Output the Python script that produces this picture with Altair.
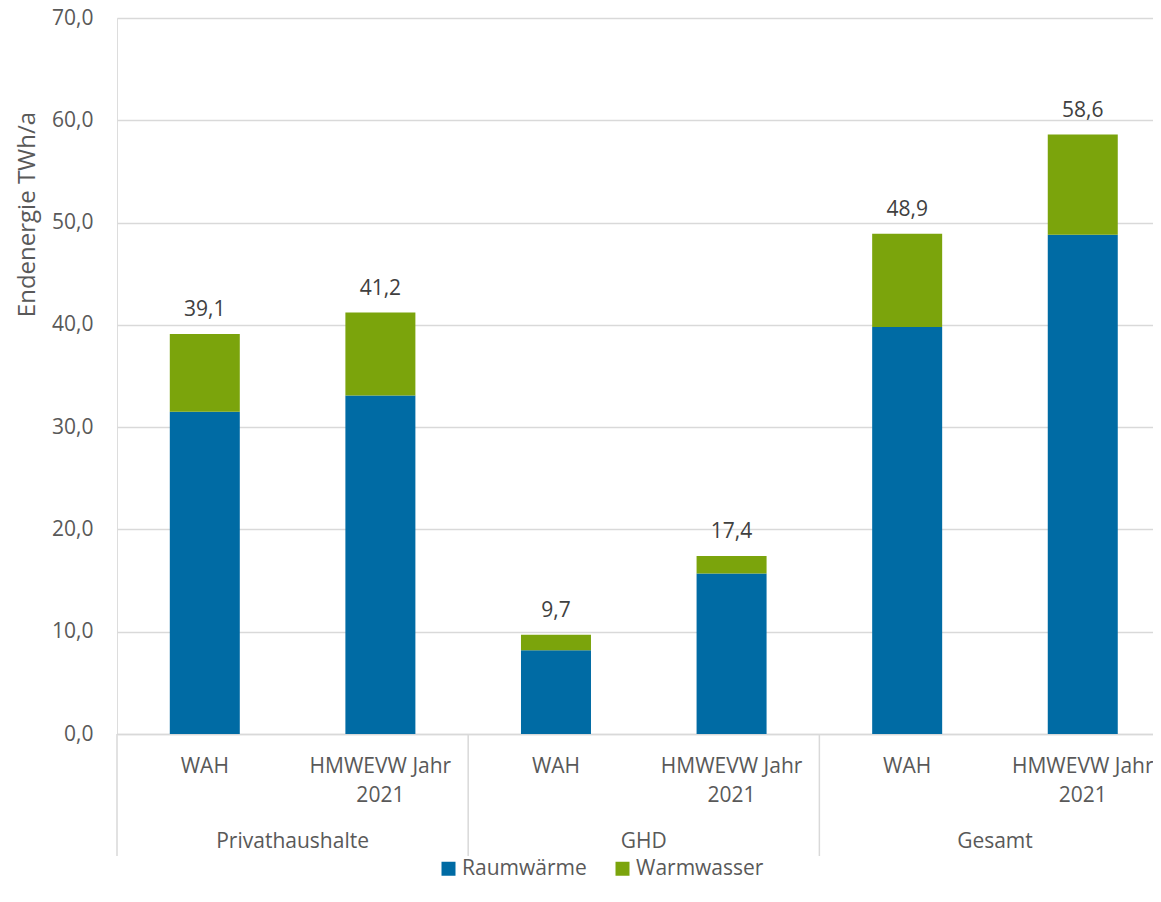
import altair as alt
import pandas as pd

groups = ["Privathaushalte", "Privathaushalte", "GHD", "GHD", "Gesamt", "Gesamt"]
subs = ["WAH", "HMWEVW Jahr\n2021", "WAH", "HMWEVW Jahr\n2021", "WAH", "HMWEVW Jahr\n2021"]
raumwaerme = [31.5, 33.1, 8.2, 15.7, 39.8, 48.8]
warmwasser = [7.6, 8.1, 1.5, 1.7, 9.1, 9.8]
totals = [39.1, 41.2, 9.7, 17.4, 48.9, 58.6]
series = ["Raumwärme", "Warmwasser"]
colors = ["#006BA4", "#7BA40C"]
group_names = ["Privathaushalte", "GHD", "Gesamt"]
y_ticks = [0, 10, 20, 30, 40, 50, 60, 70]
# group boundaries visible in the picture (the right-most one lies past the edge)
separators = [0, 2, 4]

FONT = "Open Sans"
FS = 21

rows = []
for i in range(len(subs)):
    rows.append({"pos": i + 0.5, "series": series[0], "value": raumwaerme[i], "ord": 0})
    rows.append({"pos": i + 0.5, "series": series[1], "value": warmwasser[i], "ord": 1})
bars_df = pd.DataFrame(rows)

tot_df = pd.DataFrame({"pos": [i + 0.5 for i in range(len(subs))], "total": totals, "sub": subs})
grp_df = pd.DataFrame({"gpos": [2 * k + 1 for k in range(len(group_names))], "group": group_names})
sep_df = pd.DataFrame({"sx": separators})

# as in the reference, the last group runs up to the right edge of the picture
xscale = alt.Scale(domain=[0, 5.9], nice=False, zero=False, padding=0)
yscale = alt.Scale(domain=[0, 70], nice=False)

bars = alt.Chart(bars_df).mark_bar(width=70).encode(
    x=alt.X("pos:Q", scale=xscale,
            axis=alt.Axis(labels=False, ticks=False, grid=False, domain=True,
                          domainColor="#D9D9D9", domainWidth=1.5, title=None)),
    y=alt.Y("value:Q", stack="zero", scale=yscale,
            axis=alt.Axis(values=y_ticks, title="Endenergie TWh/a", grid=True,
                          gridColor="#D9D9D9", gridWidth=1.5, domain=False, ticks=False, tickSize=0,
                          labelPadding=24, titlePadding=12, titleY=196,
                          labelExpr="replace(format(datum.value, '.1f'), '.', ',')",
                          labelFont=FONT, labelFontSize=FS, labelColor="#595959",
                          titleFont=FONT, titleFontSize=24, titleColor="#595959",
                          titleFontWeight="normal")),
    color=alt.Color("series:N", scale=alt.Scale(domain=series, range=colors),
                    legend=alt.Legend(title=None, orient="none", direction="horizontal",
                                      legendX=321, legendY=840, symbolType="square",
                                      symbolSize=196, symbolStrokeWidth=0, labelFont=FONT,
                                      labelFontSize=FS, labelColor="#595959",
                                      labelOffset=3, columnPadding=25)),
    order=alt.Order("ord:Q"),
)

labels = alt.Chart(tot_df).transform_calculate(
    lab="replace(format(datum.total, '.1f'), '.', ',')"
).mark_text(font=FONT, fontSize=FS, color="#404040", baseline="alphabetic", dy=-18).encode(
    x=alt.X("pos:Q", scale=xscale),
    y=alt.Y("total:Q", scale=yscale),
    text="lab:N",
)

sub_labels = alt.Chart(tot_df).mark_text(
    font=FONT, fontSize=FS, color="#595959", baseline="top", lineBreak="\n", lineHeight=29
).encode(
    x=alt.X("pos:Q", scale=xscale),
    y=alt.value(738),
    text="sub:N",
)

grp_labels = alt.Chart(grp_df).mark_text(
    font=FONT, fontSize=FS, color="#595959", baseline="top"
).encode(
    x=alt.X("gpos:Q", scale=xscale),
    y=alt.value(813),
    text="group:N",
)

seps = alt.Chart(sep_df).mark_rule(color="#D9D9D9", strokeWidth=1.5).encode(
    x=alt.X("sx:Q", scale=xscale),
    y=alt.value(716),
    y2=alt.value(838),
)

chart = alt.layer(bars, labels, seps, sub_labels, grp_labels).properties(
    width=1036, height=716,
    padding={"left": 109, "top": 10, "right": 0, "bottom": 146},
    autosize=alt.AutoSizeParams(type="none"),
).configure_view(stroke=None).configure(font=FONT)

chart.save("out.html", embed_options={"renderer": "svg", "actions": False})
